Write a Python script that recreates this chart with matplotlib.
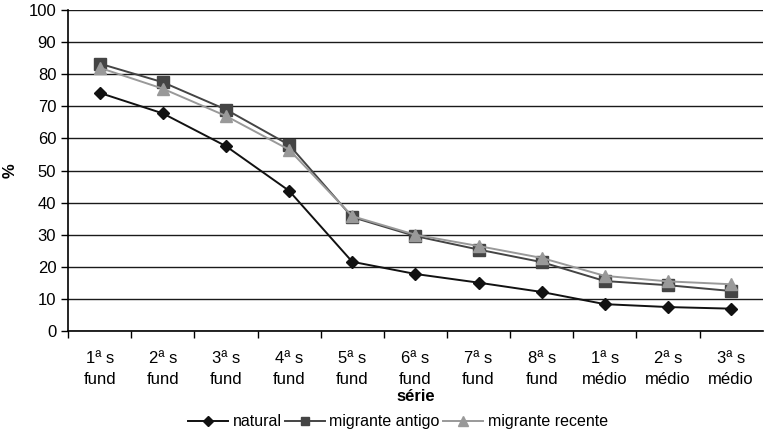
import matplotlib
matplotlib.use('Agg')
import matplotlib.pyplot as plt

plt.rcParams['font.family'] = ['Liberation Sans', 'DejaVu Sans']

categories = ['1ª s\nfund', '2ª s\nfund', '3ª s\nfund', '4ª s\nfund', '5ª s\nfund',
              '6ª s\nfund', '7ª s\nfund', '8ª s\nfund', '1ª s\nmédio', '2ª s\nmédio',
              '3ª s\nmédio']
natural = [74.2, 67.8, 57.6, 43.7, 21.6, 17.8, 15.1, 12.2, 8.4, 7.5, 7.0]
migranteAntigo = [83.3, 77.5, 69.0, 58.0, 35.5, 29.6, 25.4, 21.5, 15.6, 14.3, 12.5]
migranteRecente = [82.0, 75.5, 67.0, 56.5, 35.8, 30.0, 26.5, 22.8, 17.2, 15.5, 14.6]
yTicks = [0, 10, 20, 30, 40, 50, 60, 70, 80, 90, 100]

fig = plt.figure(figsize=(7.65, 4.34), dpi=100)
ax = fig.add_axes([0.089, 0.237, 0.908, 0.740])

x = list(range(len(categories)))
ax.plot(x, natural, color='#111111', marker='D', markersize=6, linewidth=1.4,
        label='natural', zorder=4)
ax.plot(x, migranteAntigo, color='#444444', marker='s', markersize=8, linewidth=1.4,
        label='migrante antigo', zorder=3)
ax.plot(x, migranteRecente, color='#999999', marker='^', markersize=9, linewidth=1.4,
        label='migrante recente', zorder=5)

ax.set_xlim(-0.5, len(categories) - 0.5)
ax.set_ylim(0, 100)
ax.set_yticks(yTicks)
ax.tick_params(axis='y', labelsize=12, length=5, width=1, direction='out')
ax.yaxis.grid(True, color='#1a1a1a', linewidth=1)
ax.set_axisbelow(True)

ax.set_xticks([i + 0.5 for i in range(-1, len(categories) - 1)])
ax.set_xticklabels([])
ax.set_xticks(x, minor=True)
ax.set_xticklabels(categories, minor=True, fontsize=12, linespacing=1.5)
ax.tick_params(axis='x', which='major', length=5, width=1, direction='out')
ax.tick_params(axis='x', which='minor', length=0, pad=14)

for side in ['top', 'right']:
    ax.spines[side].set_visible(False)
ax.spines['left'].set_linewidth(1.2)
ax.spines['bottom'].set_linewidth(1.2)

ax.set_xlabel('série', fontsize=12, fontweight='bold', labelpad=2)
ax.set_ylabel('%', fontsize=12, fontweight='bold')
ax.yaxis.set_label_coords(-0.072, 0.5)

fig.legend(loc='lower center', bbox_to_anchor=(0.52, -0.022), ncol=3, frameon=False,
           fontsize=11.5, handlelength=2.5, handletextpad=0.3, columnspacing=0.2,
           markerscale=0.8)

fig.savefig('out.png', dpi=100)
